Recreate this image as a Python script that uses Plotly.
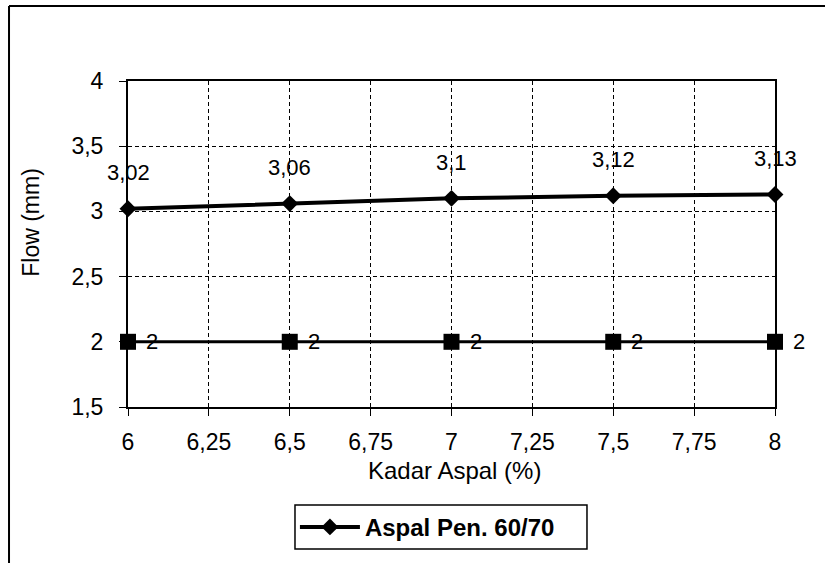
import plotly.graph_objects as go

# Asphalt content (%) and measured Marshall flow (mm)
kadar_aspal = [6, 6.5, 7, 7.5, 8]
flow_mm = [3.02, 3.06, 3.1, 3.12, 3.13]
# Minimum flow limit line
batas_min = [2, 2, 2, 2, 2]

x_ticks = [6, 6.25, 6.5, 6.75, 7, 7.25, 7.5, 7.75, 8]
y_ticks = [1.5, 2, 2.5, 3, 3.5, 4]


def koma(v):
    return f"{v:g}".replace(".", ",")


FONT = "Liberation Sans, Arial, sans-serif"
FS = 23

fig = go.Figure()

fig.add_trace(go.Scatter(
    x=kadar_aspal, y=batas_min,
    mode="lines+markers",
    line=dict(color="black", width=3),
    marker=dict(symbol="square", size=16, color="black"),
    showlegend=False,
    cliponaxis=False,
))

fig.add_trace(go.Scatter(
    x=kadar_aspal, y=flow_mm,
    mode="lines+markers",
    name="Aspal Pen. 60/70",
    line=dict(color="black", width=4),
    marker=dict(symbol="diamond", size=13, color="black"),
    cliponaxis=False,
))

# value labels above the flow points
annotations = [
    dict(x=x, y=y, xref="x", yref="y", text=koma(y), showarrow=False,
         yshift=36, font=dict(family=FONT, size=22, color="black"))
    for x, y in zip(kadar_aspal, flow_mm)
]
# value labels to the right of the limit points
annotations += [
    dict(x=x, y=y, xref="x", yref="y", text=koma(y), showarrow=False,
         xshift=24, font=dict(family=FONT, size=22, color="black"))
    for x, y in zip(kadar_aspal, batas_min)
]
annotations.append(dict(
    x=0.505, y=-0.196, xref="paper", yref="paper", text="Kadar Aspal (%)",
    showarrow=False, xanchor="center", yanchor="middle",
    font=dict(family=FONT, size=24, color="black"),
))
annotations.append(dict(
    x=-0.149, y=0.567, xref="paper", yref="paper", text="Flow (mm)",
    showarrow=False, textangle=-90, xanchor="center", yanchor="middle",
    font=dict(family=FONT, size=FS, color="black"),
))

axis_common = dict(
    showline=True, mirror=True, linecolor="black", linewidth=2,
    showgrid=True, gridcolor="black", gridwidth=1, griddash="4px,3px",
    ticks="outside", ticklen=7, tickcolor="black", tickwidth=1,
    zeroline=False,
    tickfont=dict(family=FONT, size=FS, color="black"),
)

fig.update_layout(
    width=825, height=563,
    margin=dict(l=128, r=50, t=81, b=156),
    paper_bgcolor="white", plot_bgcolor="white",
    separators=",.",
    font=dict(family=FONT, color="black"),
    xaxis=dict(range=[6, 8], tickvals=x_ticks,
               ticktext=[koma(v) for v in x_ticks],
               ticklabelstandoff=6, **axis_common),
    yaxis=dict(range=[1.5, 4], tickvals=y_ticks,
               ticktext=[koma(v) for v in y_ticks],
               ticklabelstandoff=11, **axis_common),
    showlegend=True,
    legend=dict(
        x=0.258, y=-0.30, xanchor="left", yanchor="top",
        borderwidth=0, bgcolor="rgba(0,0,0,0)",
        font=dict(family=FONT, size=24, color="black", weight="bold"),
        itemwidth=60,
    ),
    annotations=annotations,
    shapes=[
        # outer chart frame (top and left edges)
        dict(type="line", xref="paper", yref="paper",
             x0=-0.1839, x1=1.09, y0=1.2301, y1=1.2301,
             line=dict(color="black", width=2)),
        dict(type="line", xref="paper", yref="paper",
             x0=-0.1839, x1=-0.1839, y0=1.2301, y1=-0.52,
             line=dict(color="black", width=2)),
        # legend frame
        dict(type="rect", xref="paper", yref="paper",
             x0=0.2581, x1=0.7094, y0=-0.3006, y1=-0.4356,
             line=dict(color="black", width=1.5)),
    ],
)

fig.write_html("out.html")
